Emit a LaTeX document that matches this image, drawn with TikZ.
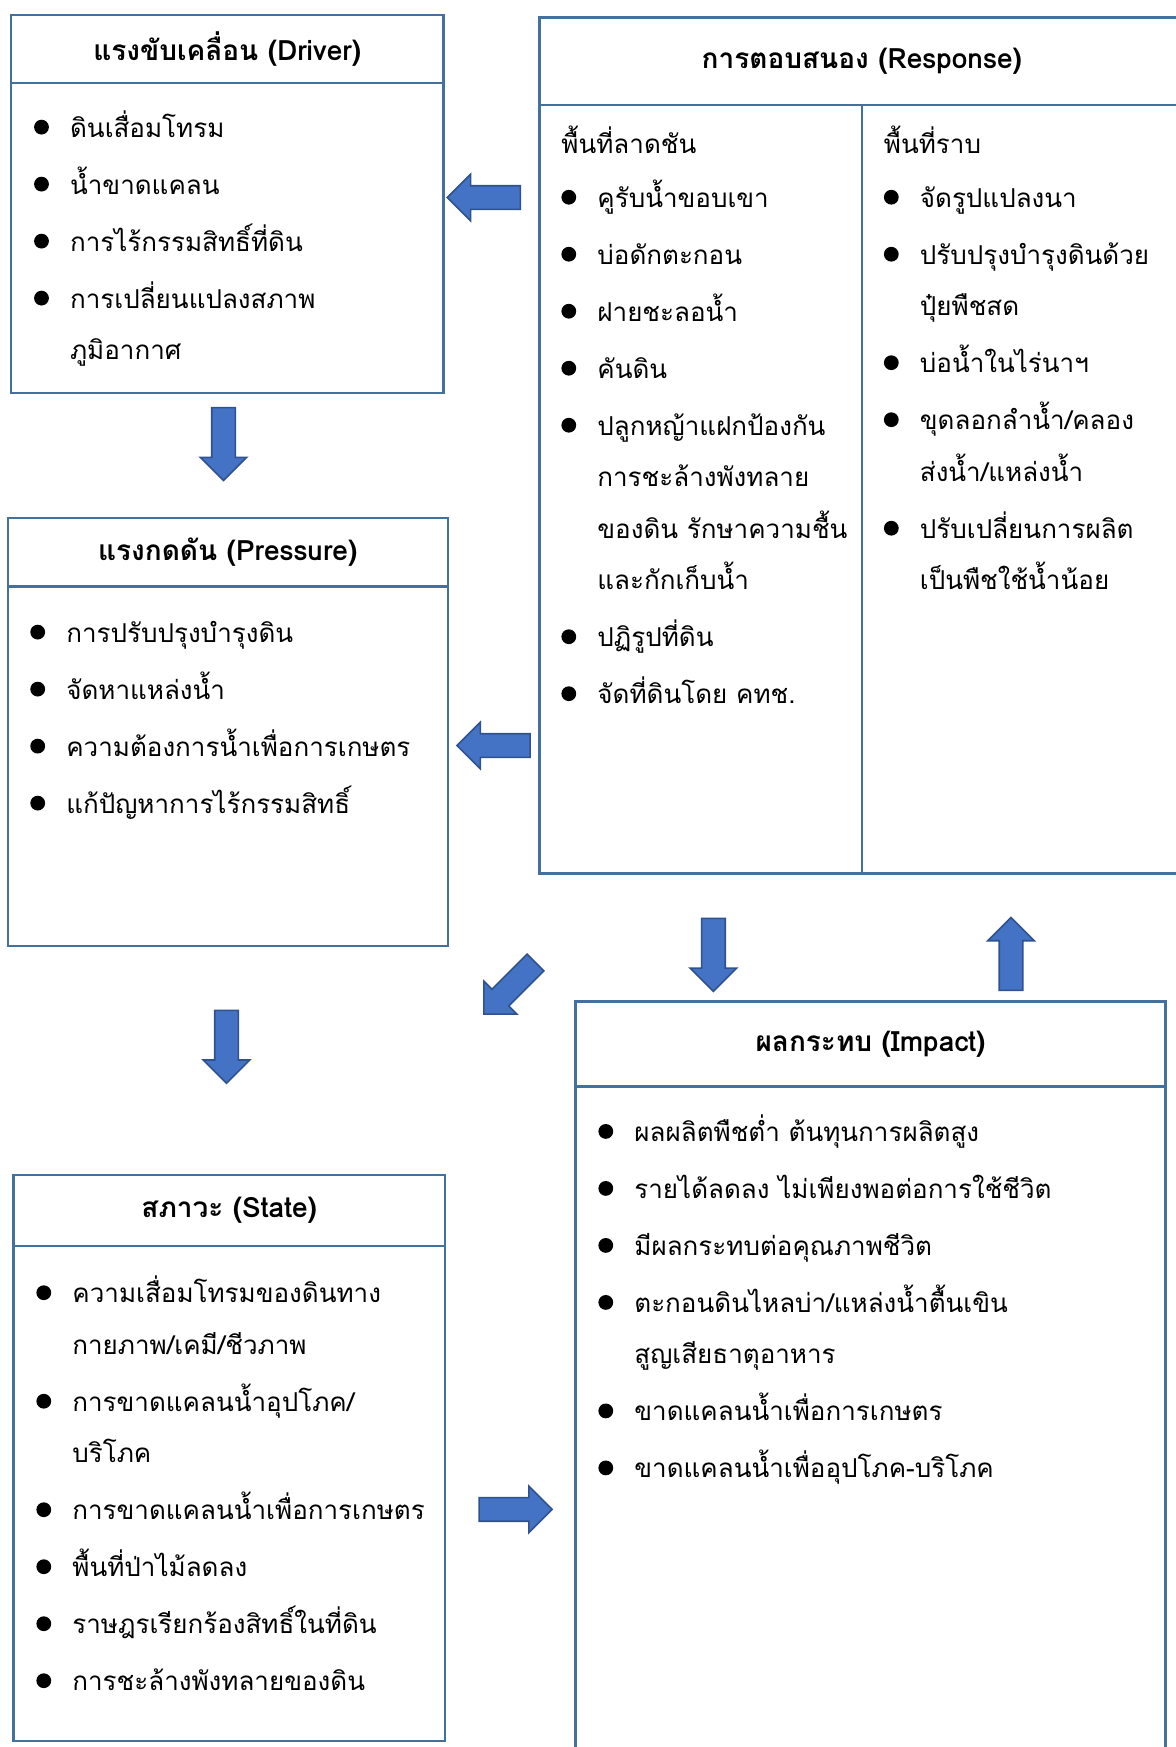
\documentclass[tikz,border=0pt]{standalone}
\usepackage{fontspec}
\setmainfont[Script=Thai]{Loma}
\usetikzlibrary{positioning,shapes.arrows}

\definecolor{boxline}{HTML}{41719C}
\definecolor{arrfill}{HTML}{4472C4}
\definecolor{arrline}{HTML}{2F528F}

\newcommand{\bul}{\tikz[baseline=-5pt]\fill (0,0) circle (3.7pt);}
\newcommand{\itm}[1]{\makebox[18pt][l]{\bul}#1}
\newcommand{\cnt}[1]{\hspace*{18pt}#1}
\newcommand{\fst}{\rule{0pt}{20pt}}
\newcommand{\igap}{\\[2.75pt]}

\begin{document}
\begin{tikzpicture}[x=0.5pt, y=0.5pt,
  hdr/.style={draw=boxline, line width=1.2pt, inner sep=0pt, outer sep=0pt, anchor=north west,
    font=\bfseries\fontsize{14}{17}\selectfont},
  bodybox/.style={draw=boxline, line width=1.2pt, inner sep=0pt, outer sep=0pt},
  list/.style={anchor=north west, inner sep=0pt, align=left,
    font=\fontsize{13}{25.75}\selectfont},
  blockarr/.style={single arrow, draw=arrline, fill=arrfill, line width=0.8pt,
    inner xsep=0pt, inner ysep=5.5pt, single arrow head extend=5.75pt,
    minimum height=36.5pt}]
\def \W {1176}
\def \H {-1747}
\useasboundingbox (0,0) rectangle (\W,\H);
\clip (0,0) rectangle (\W,\H);

% driver
\node [hdr, minimum width=216.25pt, minimum height=33.85pt] (drvH) at (11,-15) {แรงขับเคลื่อน (Driver)};
\node [bodybox, below=0pt of drvH, minimum width=216.25pt, minimum height=155.15pt] (drvB) {};
\node [list] (drvL) at (33.7,-96.7) {\fst\itm{ดินเสื่อมโทรม}\igap
  \itm{น้ำขาดแคลน}\igap
  \itm{การไร้กรรมสิทธิ์ที่ดิน}\igap
  \itm{การเปลี่ยนแปลงสภาพ}\\
  \cnt{ภูมิอากาศ}};

% response
\node [hdr, minimum width=322.2pt, minimum height=43.85pt] (rspH) at (539.6,-17.3) {การตอบสนอง (Response)};
\node [bodybox, below=0pt of rspH, minimum width=322.2pt, minimum height=384.2pt] (rspB) {};
\draw [boxline, line width=1.2pt] (rspB.north) -- (rspB.south);
\node [list] (rspL) at (561,-113.3) {\fst พื้นที่ลาดชัน\\[1pt]
  \itm{คูรับน้ำขอบเขา}\igap
  \itm{บ่อดักตะกอน}\igap
  \itm{ฝายชะลอน้ำ}\igap
  \itm{คันดิน}\igap
  \itm{ปลูกหญ้าแฝกป้องกัน}\\
  \cnt{การชะล้างพังทลาย}\\
  \cnt{ของดิน รักษาความชื้น}\\
  \cnt{และกักเก็บน้ำ}\igap
  \itm{ปฏิรูปที่ดิน}\igap
  \itm{จัดที่ดินโดย คทช.}};
\node [list] (rspR) at (883.5,-113.3) {\fst พื้นที่ราบ\\[1pt]
  \itm{จัดรูปแปลงนา}\igap
  \itm{ปรับปรุงบำรุงดินด้วย}\\
  \cnt{ปุ๋ยพืชสด}\igap
  \itm{บ่อน้ำในไร่นาฯ}\igap
  \itm{ขุดลอกลำน้ำ/คลอง}\\
  \cnt{ส่งน้ำ/แหล่งน้ำ}\igap
  \itm{ปรับเปลี่ยนการผลิต}\\
  \cnt{เป็นพืชใช้น้ำน้อย}};

% pressure
\node [hdr, minimum width=220.05pt, minimum height=34.45pt] (prsH) at (7.7,-517.7) {แรงกดดัน (Pressure)};
\node [bodybox, below=0pt of prsH, minimum width=220.05pt, minimum height=179.7pt] (prsB) {};
\node [list] (prsL) at (29.9,-601.7) {\fst\itm{การปรับปรุงบำรุงดิน}\igap
  \itm{จัดหาแหล่งน้ำ}\igap
  \itm{ความต้องการน้ำเพื่อการเกษตร}\igap
  \itm{แก้ปัญหาการไร้กรรมสิทธิ์}};

% impact
\node [hdr, minimum width=295pt, minimum height=42.5pt] (impH) at (575.5,-1001.4) {ผลกระทบ (Impact)};
\node [bodybox, below=0pt of impH, minimum width=295pt, minimum height=360pt] (impB) {};
\node [list] (impL) at (598,-1101) {\fst\itm{ผลผลิตพืชต่ำ ต้นทุนการผลิตสูง}\igap
  \itm{รายได้ลดลง ไม่เพียงพอต่อการใช้ชีวิต}\igap
  \itm{มีผลกระทบต่อคุณภาพชีวิต}\igap
  \itm{ตะกอนดินไหลบ่า/แหล่งน้ำตื้นเขิน}\\
  \cnt{สูญเสียธาตุอาหาร}\igap
  \itm{ขาดแคลนน้ำเพื่อการเกษตร}\igap
  \itm{ขาดแคลนน้ำเพื่ออุปโภค-บริโภค}};

% state
\node [hdr, minimum width=215.8pt, minimum height=35.65pt] (staH) at (13.4,-1174.7) {สภาวะ (State)};
\node [bodybox, below=0pt of staH, minimum width=215.8pt, minimum height=247.5pt] (staB) {};
\node [list] (staL) at (36,-1262.3) {\fst\itm{ความเสื่อมโทรมของดินทาง}\\
  \cnt{กายภาพ/เคมี/ชีวภาพ}\igap
  \itm{การขาดแคลนน้ำอุปโภค/}\\
  \cnt{บริโภค}\igap
  \itm{การขาดแคลนน้ำเพื่อการเกษตร}\igap
  \itm{พื้นที่ป่าไม้ลดลง}\igap
  \itm{ราษฎรเรียกร้องสิทธิ์ในที่ดิน}\igap
  \itm{การชะล้างพังทลายของดิน}};

% arrows
\node [blockarr, rotate=180] (aRspDrv) at (489.7,-197.5) {};
\node [blockarr, rotate=-90] (aDrvPrs) at (223.5,-438.2) {};
\node [blockarr, rotate=180] (aRspPrs) at (499.5,-745.5) {};
\node [blockarr, rotate=225] (aRspSta) at (513.9,-984.1) {};
\node [blockarr, rotate=-90] (aPrsSta) at (226.5,-1040.9) {};
\node [blockarr, rotate=-90] (aRspImp) at (713.4,-949) {};
\node [blockarr, rotate=90]  (aImpRsp) at (1011,-959.8) {};
\node [blockarr] (aStaImp) at (509.7,-1509.4) {};

\end{tikzpicture}
\end{document}
